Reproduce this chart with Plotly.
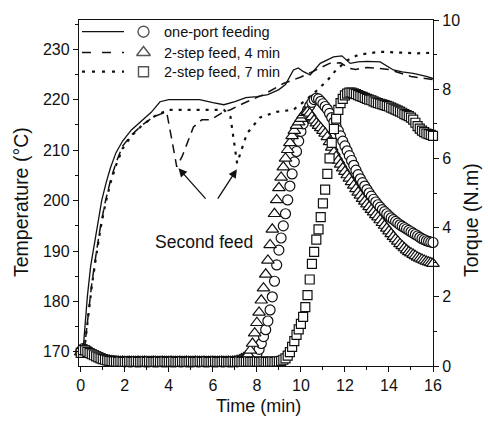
import plotly.graph_objects as go

# ---------------- data ----------------
# Torque (right axis), sampled every 0.1 min from 0 to 16 min
time_torque = [round(i * 0.1, 1) for i in range(161)]

torque_one_port = [
    0.42, 0.50, 0.48, 0.44, 0.40, 0.36, 0.33, 0.30, 0.27, 0.24,
    0.21, 0.19, 0.17, 0.16, 0.15, 0.14, 0.14, 0.13, 0.13, 0.13,
    0.12, 0.13, 0.12, 0.12, 0.13, 0.12, 0.12, 0.12, 0.13, 0.12,
    0.12, 0.12, 0.13, 0.12, 0.12, 0.12, 0.13, 0.12, 0.12, 0.12,
    0.13, 0.12, 0.12, 0.12, 0.13, 0.12, 0.12, 0.13, 0.12, 0.12,
    0.12, 0.12, 0.13, 0.12, 0.12, 0.13, 0.12, 0.12, 0.12, 0.13,
    0.12, 0.12, 0.12, 0.13, 0.12, 0.12, 0.13, 0.12, 0.12, 0.12,
    0.13, 0.12, 0.13, 0.13, 0.14, 0.15, 0.16, 0.18, 0.22, 0.28,
    0.35, 0.48, 0.65, 0.85, 1.05, 1.30, 1.62, 2.00, 2.45, 2.92,
    3.35, 3.70, 4.05, 4.40, 4.80, 5.20, 5.55, 5.90, 6.20, 6.50,
    6.78, 7.00, 7.22, 7.40, 7.52, 7.62, 7.70, 7.74, 7.72, 7.65,
    7.58, 7.50, 7.42, 7.30, 7.18, 7.05, 6.92, 6.80, 6.65, 6.50,
    6.36, 6.22, 6.08, 5.94, 5.80, 5.66, 5.53, 5.41, 5.30, 5.20,
    5.10, 5.00, 4.91, 4.82, 4.74, 4.66, 4.59, 4.52, 4.46, 4.40,
    4.34, 4.28, 4.23, 4.18, 4.13, 4.08, 4.04, 4.00, 3.96, 3.92,
    3.88, 3.84, 3.80, 3.76, 3.72, 3.68, 3.65, 3.62, 3.60, 3.58,
    3.57,
]

torque_4min = [
    0.40, 0.48, 0.46, 0.42, 0.38, 0.35, 0.32, 0.29, 0.26, 0.23,
    0.20, 0.18, 0.16, 0.15, 0.14, 0.14, 0.13, 0.13, 0.12, 0.13,
    0.12, 0.12, 0.13, 0.12, 0.12, 0.12, 0.13, 0.12, 0.12, 0.13,
    0.12, 0.12, 0.12, 0.13, 0.12, 0.12, 0.12, 0.13, 0.12, 0.12,
    0.12, 0.13, 0.12, 0.12, 0.12, 0.13, 0.12, 0.12, 0.13, 0.12,
    0.12, 0.12, 0.13, 0.12, 0.12, 0.12, 0.13, 0.12, 0.12, 0.12,
    0.13, 0.12, 0.12, 0.12, 0.13, 0.12, 0.12, 0.13, 0.12, 0.13,
    0.14, 0.15, 0.17, 0.20, 0.23, 0.27, 0.33, 0.45, 0.65, 0.95,
    1.25, 1.55, 1.90, 2.25, 2.65, 3.05, 3.50, 3.95, 4.40, 4.80,
    5.15, 5.45, 5.75, 6.00, 6.25, 6.45, 6.65, 6.80, 6.95, 7.05,
    7.15, 7.25, 7.32, 7.35, 7.30, 7.20, 7.10, 7.02, 6.95, 6.88,
    6.80, 6.72, 6.62, 6.48, 6.32, 6.18, 6.05, 5.94, 5.83, 5.72,
    5.62, 5.52, 5.42, 5.32, 5.22, 5.12, 5.02, 4.93, 4.84, 4.76,
    4.68, 4.60, 4.52, 4.45, 4.37, 4.30, 4.22, 4.14, 4.06, 3.98,
    3.90, 3.82, 3.74, 3.67, 3.60, 3.53, 3.47, 3.41, 3.35, 3.30,
    3.26, 3.22, 3.18, 3.14, 3.11, 3.08, 3.05, 3.02, 3.00, 2.98,
    2.96,
]

torque_7min = [
    0.38, 0.46, 0.45, 0.41, 0.37, 0.34, 0.31, 0.28, 0.25, 0.22,
    0.20, 0.18, 0.16, 0.15, 0.14, 0.13, 0.13, 0.12, 0.13, 0.12,
    0.12, 0.12, 0.13, 0.12, 0.12, 0.13, 0.12, 0.12, 0.12, 0.13,
    0.12, 0.13, 0.12, 0.12, 0.12, 0.13, 0.12, 0.12, 0.13, 0.12,
    0.12, 0.12, 0.13, 0.12, 0.12, 0.12, 0.13, 0.12, 0.12, 0.12,
    0.13, 0.12, 0.12, 0.12, 0.13, 0.12, 0.12, 0.13, 0.12, 0.12,
    0.12, 0.13, 0.12, 0.12, 0.12, 0.13, 0.12, 0.12, 0.12, 0.13,
    0.12, 0.12, 0.13, 0.12, 0.12, 0.12, 0.13, 0.12, 0.12, 0.12,
    0.13, 0.12, 0.12, 0.13, 0.12, 0.12, 0.12, 0.13, 0.12, 0.13,
    0.13, 0.15, 0.18, 0.22, 0.30, 0.40, 0.55, 0.72, 0.90, 1.06,
    1.22, 1.42, 1.70, 2.05, 2.50, 2.95, 3.30, 3.65, 3.95, 4.30,
    4.70, 5.10, 5.55, 6.00, 6.45, 6.85, 7.15, 7.40, 7.60, 7.72,
    7.82, 7.87, 7.90, 7.90, 7.88, 7.86, 7.83, 7.80, 7.78, 7.75,
    7.72, 7.70, 7.68, 7.65, 7.62, 7.60, 7.58, 7.56, 7.54, 7.52,
    7.50, 7.47, 7.44, 7.41, 7.38, 7.35, 7.32, 7.28, 7.25, 7.22,
    7.18, 7.12, 7.03, 6.93, 6.86, 6.80, 6.76, 6.72, 6.70, 6.68,
    6.65,
]

# Temperature (left axis)
time_temp_one = [0.1, 0.2, 0.3, 0.45, 0.65, 0.8, 0.95, 1.15, 1.35, 1.6, 1.9,
                 2.3, 2.8, 3.2, 3.6, 4.0, 4.5, 5.0, 5.4, 6.0, 6.5, 7.0, 7.5,
                 8.0, 8.5, 9.0, 9.3, 9.66, 9.88, 10.1, 10.42, 10.88, 11.48,
                 11.86, 12.24, 12.6, 13.0, 13.6, 14.2, 14.6, 15.1, 15.7, 16.0]
temp_one = [170.0, 175.5, 181.0, 187.0, 192.5, 196.5, 200.0, 203.5, 206.5, 209.5,
            211.8, 214.0, 216.0, 217.5, 219.6, 220.0, 220.0, 220.0, 220.0, 219.4,
            219.0, 219.6, 220.4, 220.6, 221.0, 222.0, 223.0, 225.9, 226.3, 225.6,
            224.9, 227.2, 228.5, 228.7, 227.2, 227.5, 227.6, 227.5, 225.9, 225.5,
            225.2, 224.6, 224.2]

time_temp_4min = [0.15, 0.3, 0.5, 0.7, 0.9, 1.1, 1.35, 1.6, 1.9, 2.3, 2.8, 3.3,
                  3.9, 4.14, 4.36, 4.6, 5.12, 5.5, 5.88, 6.5, 6.8, 7.4, 8.3, 9.2,
                  10.0, 10.5, 11.3, 11.8, 12.2, 12.5, 13.0, 14.0, 14.5, 15.0, 16.0]
temp_4min = [170.0, 176.0, 183.5, 189.5, 195.0, 199.5, 204.0, 207.5, 210.8, 213.0,
             215.0, 216.6, 217.6, 212.0, 206.7, 208.7, 214.6, 216.0, 216.0, 217.6,
             218.0, 219.3, 221.0, 223.2, 224.5, 225.5, 227.2, 227.3, 226.2, 226.0,
             226.4, 226.0, 225.3, 224.6, 224.0]

time_temp_7min = [0.15, 0.3, 0.5, 0.7, 0.9, 1.1, 1.35, 1.6, 1.9, 2.3, 2.8, 3.45,
                  4.0, 5.0, 6.0, 6.5, 6.8, 7.1, 7.55, 8.15, 8.9, 9.66, 10.1, 10.57,
                  11.2, 11.6, 12.1, 12.6, 13.6, 15.3, 16.0]
temp_7min = [170.0, 175.5, 183.0, 189.0, 194.5, 199.0, 203.5, 207.0, 210.3, 212.8,
             215.0, 217.0, 218.0, 218.0, 218.0, 218.0, 216.6, 207.4, 213.3, 216.5,
             217.6, 218.0, 219.5, 221.2, 223.8, 225.9, 227.8, 228.9, 229.5, 229.2,
             229.3]

legend_labels = ["one-port feeding", "2-step feed, 4 min", "2-step feed, 7 min"]

# ---------------- figure ----------------
FONT = "Arial, Liberation Sans, Helvetica, sans-serif"
INK = "#111111"

fig = go.Figure()

line_styles = [
    dict(color=INK, width=1.3),
    dict(color=INK, width=1.5, dash="9px,6px"),
    dict(color=INK, width=2.2, dash="3px,6px"),
]
for tx, ty, ls in [(time_temp_one, temp_one, line_styles[0]),
                   (time_temp_4min, temp_4min, line_styles[1]),
                   (time_temp_7min, temp_7min, line_styles[2])]:
    fig.add_trace(go.Scatter(x=tx, y=ty, mode="lines", line=ls,
                             yaxis="y", showlegend=False, cliponaxis=False))

marker_common = dict(color="white", line=dict(color=INK, width=1.2))
for ty, sym, sz in [(torque_one_port, "circle", 10),
                    (torque_4min, "triangle-up", 11),
                    (torque_7min, "square", 9)]:
    fig.add_trace(go.Scatter(
        x=time_torque, y=ty, mode="markers", yaxis="y2",
        marker=dict(symbol=sym, size=sz, **marker_common),
        showlegend=False, cliponaxis=False))

# ---- manual legend (paper coordinates, plot area) ----
PL, PR, PT, PB = 79, 433, 20, 366
def px(xp):
    return (xp - PL) / (PR - PL)
def py(yp):
    return (PB - yp) / (PB - PT)

rows_y = [31.7, 52.5, 71.7]
dashes = ["solid", "9px,11px", "3px,7px"]
widths = [1.3, 1.6, 2.2]
for ry, d, w in zip(rows_y, dashes, widths):
    fig.add_shape(type="line", xref="paper", yref="paper",
                  x0=px(82), x1=px(124), y0=py(ry), y1=py(ry),
                  line=dict(color=INK, width=w, dash=d))

fig.add_trace(go.Scatter(
    x=[px(143.5)] * 3, y=[py(r) for r in rows_y], mode="markers",
    xaxis="x3", yaxis="y3",
    marker=dict(symbol=["circle", "triangle-up", "square"], size=[11, 12, 10],
                color="white", line=dict(color=INK, width=1.4)),
    showlegend=False, cliponaxis=False))

for ry, lab in zip(rows_y, legend_labels):
    fig.add_annotation(x=px(162), y=py(ry), xref="paper", yref="paper",
                       text=lab, showarrow=False, xanchor="left", yanchor="middle",
                       font=dict(family=FONT, size=14.5, color=INK))

# ---- "Second feed" annotation with arrows ----
fig.add_annotation(x=5.6, y=191.8, xref="x", yref="y", text="Second feed",
                   showarrow=False, font=dict(family=FONT, size=17.5, color=INK))
for tip, tail in [((4.44, 206.4), (5.73, 200.1)), ((7.09, 206.2), (6.18, 200.1))]:
    fig.add_annotation(x=tip[0], y=tip[1], ax=tail[0], ay=tail[1],
                       xref="x", yref="y", axref="x", ayref="y",
                       text="", showarrow=True, arrowhead=2, arrowsize=1.3,
                       arrowwidth=1.3, arrowcolor=INK)

# ---- axis titles ----
fig.add_annotation(x=px(258), y=py(406), xref="paper", yref="paper", text="Time (min)",
                   showarrow=False, xanchor="center", yanchor="middle",
                   font=dict(family=FONT, size=18, color=INK))
fig.add_annotation(x=px(21), y=py(202), xref="paper", yref="paper",
                   text="Temperature (°C)", textangle=-90, showarrow=False,
                   xanchor="center", yanchor="middle",
                   font=dict(family=FONT, size=19.5, color=INK))
fig.add_annotation(x=px(471), y=py(220), xref="paper", yref="paper",
                   text="Torque (N.m)", textangle=-90, showarrow=False,
                   xanchor="center", yanchor="middle",
                   font=dict(family=FONT, size=19.5, color=INK))

tickfont = dict(family=FONT, size=16, color=INK)
fig.update_layout(
    width=488, height=423,
    margin=dict(l=PL, r=488 - PR, t=PT, b=423 - PB),
    paper_bgcolor="white", plot_bgcolor="white",
    showlegend=False,
    xaxis=dict(range=[-0.08, 16.0], tickmode="array",
               tickvals=[0, 2, 4, 6, 8, 10, 12, 14, 16],
               ticks="outside", ticklen=5, tickwidth=1.2, tickcolor=INK,
               showline=True, linecolor=INK, linewidth=1.3, mirror=True,
               showgrid=False, zeroline=False, tickfont=tickfont,
               minor=dict(dtick=1, ticks="outside", ticklen=3, tickcolor=INK, tickwidth=1)),
    yaxis=dict(range=[167.2, 235.8], tickmode="array",
               tickvals=[170, 180, 190, 200, 210, 220, 230],
               ticks="outside", ticklen=5, tickwidth=1.2, tickcolor=INK,
               showline=True, linecolor=INK, linewidth=1.3,
               showgrid=False, zeroline=False, tickfont=tickfont,
               minor=dict(tickvals=[175, 185, 195, 205, 215, 225, 235],
                          ticks="outside", ticklen=3, tickcolor=INK, tickwidth=1)),
    yaxis2=dict(range=[0, 10], overlaying="y", side="right", anchor="x",
                tickmode="array", tickvals=[0, 2, 4, 6, 8, 10],
                ticks="outside", ticklen=5, tickwidth=1.2, tickcolor=INK,
                showline=True, linecolor=INK, linewidth=1.3,
                showgrid=False, zeroline=False, tickfont=tickfont,
                minor=dict(tickvals=[1, 3, 5, 7, 9], ticks="outside", ticklen=3,
                           tickcolor=INK, tickwidth=1)),
    xaxis3=dict(range=[0, 1], overlaying="x", visible=False, anchor="y3"),
    yaxis3=dict(range=[0, 1], overlaying="y", visible=False, anchor="x3"),
)

fig.write_html("out.html")
